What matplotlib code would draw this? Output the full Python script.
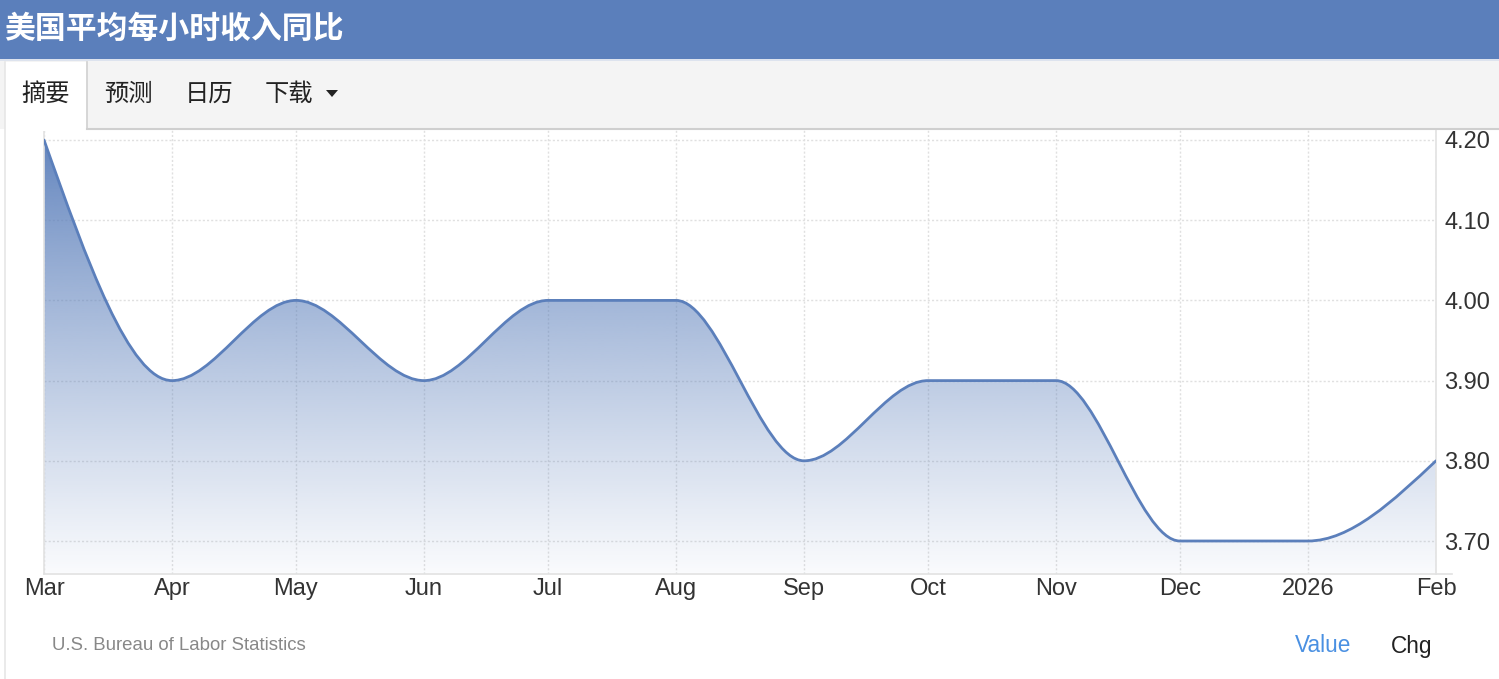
import numpy as np
import matplotlib
matplotlib.use("Agg")
import matplotlib.pyplot as plt
import matplotlib.dates as mdates
from matplotlib.path import Path
from matplotlib.patches import PathPatch, Rectangle, Polygon
from matplotlib.lines import Line2D
import datetime as dt

# ---------------- data ----------------
title = "美国平均每小时收入同比"
tabs = ["摘要", "预测", "日历", "下载"]
dates = ["2025-03-01", "2025-04-01", "2025-05-01", "2025-06-01", "2025-07-01",
         "2025-08-01", "2025-09-01", "2025-10-01", "2025-11-01", "2025-12-01",
         "2026-01-01", "2026-02-01"]
x_labels = ["Mar", "Apr", "May", "Jun", "Jul", "Aug", "Sep", "Oct", "Nov",
            "Dec", "2026", "Feb"]
values = [4.20, 3.90, 4.00, 3.90, 4.00, 4.00, 3.80, 3.90, 3.90, 3.70, 3.70, 3.80]
y_ticks = [3.70, 3.80, 3.90, 4.00, 4.10, 4.20]
source = "U.S. Bureau of Labor Statistics"

W, H = 1499, 679
fig = plt.figure(figsize=(W / 100, H / 100), dpi=100)
fig.patch.set_facecolor("white")

def fx(x):
    return x / W

def fy(y):
    return 1 - y / H

BLUE = "#5b7fbb"
CJK = ["Noto Sans CJK SC", "DejaVu Sans"]
LAT = ["Liberation Sans", "DejaVu Sans"]

# ---------------- header + tabs ----------------
fig.patches.append(Rectangle((0, fy(59)), 1, 59 / H, transform=fig.transFigure,
                             facecolor=BLUE, edgecolor="none", zorder=0))
fig.patches.append(Rectangle((0, fy(61)), 1, 2 / H, transform=fig.transFigure,
                             facecolor="#dde3ee", edgecolor="none", zorder=0))
fig.patches.append(Rectangle((0, fy(129)), 1, 68 / H, transform=fig.transFigure,
                             facecolor="#f4f4f4", edgecolor="none", zorder=0))
fig.lines.append(Line2D([fx(87), 1], [fy(129), fy(129)], transform=fig.transFigure,
                        color="#cfcfcf", lw=1.5))
fig.patches.append(Rectangle((fx(5), fy(131)), 82 / W, 69 / H, transform=fig.transFigure,
                             facecolor="white", edgecolor="none", zorder=1))
fig.lines.append(Line2D([fx(87), fx(87)], [fy(62), fy(129)], transform=fig.transFigure,
                        color="#d0d0d0", lw=1.2))
fig.lines.append(Line2D([fx(5), fx(5)], [fy(62), fy(679)], transform=fig.transFigure,
                        color="#e6e6e6", lw=1.2))

fig.text(fx(4), fy(29), title, color="white", fontsize=22.2, fontweight="bold",
         family=CJK, ha="left", va="center")
tab_x = [46, 128, 209, 289]
for t, xx in zip(tabs, tab_x):
    fig.text(fx(xx), fy(94), t, color="#222222", fontsize=17.5, family=CJK,
             ha="center", va="center")
fig.patches.append(Polygon([[fx(326), fy(90)], [fx(338), fy(90)], [fx(332), fy(97)]],
                           closed=True, transform=fig.transFigure,
                           facecolor="#222222", edgecolor="none"))

# ---------------- chart ----------------
xd = mdates.date2num([dt.datetime.strptime(d, "%Y-%m-%d") for d in dates])
yv = np.array(values)

left, right = 44, 1436
top, bottom = 130, 574
ax = fig.add_axes([fx(left), fy(bottom), (right - left) / W, (bottom - top) / H])
y_top_val = 4.20 + (140 - top) / 802.0
y_bot_val = 3.70 - (bottom - 541) / 802.0
ax.set_xlim(xd[0], xd[-1])
ax.set_ylim(y_bot_val, y_top_val)
ax.set_facecolor("none")

# monotone cubic (d3 curveMonotoneX) as Bezier path
n = len(xd)
h = np.diff(xd)
s = np.diff(yv) / h
t = np.zeros(n)
for i in range(1, n - 1):
    s0, s1 = s[i - 1], s[i]
    p = (s0 * h[i] + s1 * h[i - 1]) / (h[i - 1] + h[i])
    t[i] = (np.sign(s0) + np.sign(s1)) * min(abs(s0), abs(s1), 0.5 * abs(p))
t[0] = (3 * s[0] - t[1]) / 2
t[-1] = (3 * s[-1] - t[-2]) / 2
verts = [(xd[0], yv[0])]
codes = [Path.MOVETO]
for i in range(n - 1):
    dx = h[i] / 3
    verts += [(xd[i] + dx, yv[i] + dx * t[i]),
              (xd[i + 1] - dx, yv[i + 1] - dx * t[i + 1]),
              (xd[i + 1], yv[i + 1])]
    codes += [Path.CURVE4] * 3
line_path = Path(verts, codes)

fill_verts = verts + [(xd[-1], y_bot_val), (xd[0], y_bot_val), (xd[0], yv[0])]
fill_codes = codes + [Path.LINETO, Path.LINETO, Path.CLOSEPOLY]
fill_path = Path(fill_verts, fill_codes)
clip = PathPatch(fill_path, facecolor="none", edgecolor="none", transform=ax.transData)
ax.add_patch(clip)

g = np.linspace(0, 1, 256)[:, None]
alpha = 0.97 - 0.94 * g ** 0.85
rgba = np.zeros((256, 2, 4))
rgba[..., 0] = 0x5b / 255
rgba[..., 1] = 0x7f / 255
rgba[..., 2] = 0xbb / 255
rgba[..., 3] = alpha
im = ax.imshow(rgba, extent=[xd[0], xd[-1], y_bot_val, 4.20], aspect="auto",
               origin="upper", zorder=1, interpolation="bilinear")
im.set_clip_path(clip)

ax.add_patch(PathPatch(line_path, facecolor="none", edgecolor=BLUE, lw=2.0,
                       zorder=3, capstyle="round", joinstyle="round"))

ax.set_xticks(xd)
ax.set_xticklabels(x_labels)
ax.set_yticks(y_ticks)
ax.set_yticklabels([f"{v:.2f}" for v in y_ticks])
ax.grid(True, color="#e0e0e0", linestyle=(0, (1.5, 1.5)), lw=1.0, zorder=0)
ax.set_axisbelow(True)
ax.yaxis.tick_right()
ax.tick_params(axis="both", length=0, labelsize=17, labelcolor="#333333")
ax.tick_params(axis="x", pad=3)
ax.tick_params(axis="y", pad=6)
for lab in ax.get_xticklabels() + ax.get_yticklabels():
    lab.set_family(LAT)
ax.spines["top"].set_visible(False)
for sp in ["left", "right", "bottom"]:
    ax.spines[sp].set_color("#e2e2e2")
    ax.spines[sp].set_linewidth(1.2)

fig.lines.append(Line2D([fx(1436), fx(1452)], [fy(574), fy(574)], transform=fig.transFigure,
                        color="#e2e2e2", lw=1.2))

# footer
fig.text(fx(52), fy(646), source, color="#888888", fontsize=13.4, family=LAT,
         ha="left", va="center")
fig.text(fx(1323), fy(646), "Value", color="#4a90e2", fontsize=16.3, family=LAT,
         ha="center", va="center")
fig.text(fx(1412), fy(646), "Chg", color="#222222", fontsize=16.3, family=LAT,
         ha="center", va="center")

fig.savefig("out.png", dpi=100, facecolor="white")
